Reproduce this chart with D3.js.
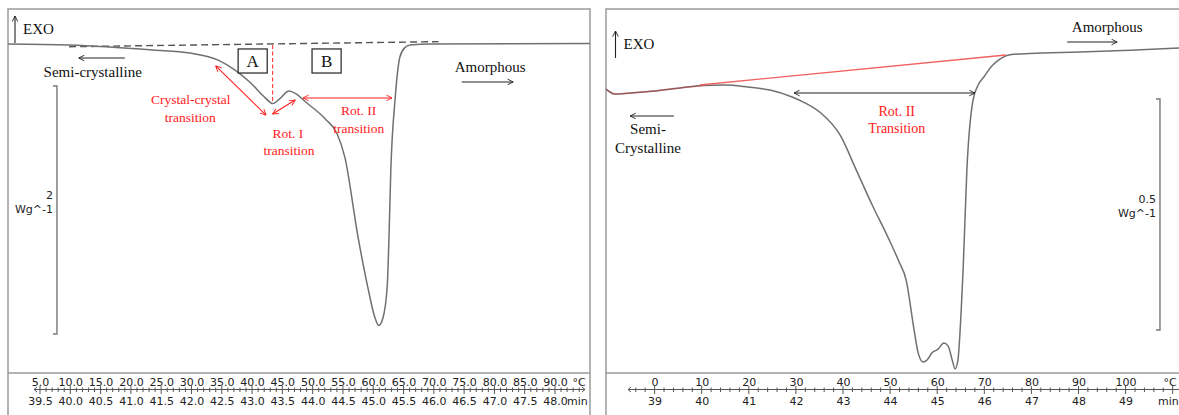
<!DOCTYPE html>
<html>
<head>
<meta charset="utf-8">
<script src="https://cdn.jsdelivr.net/npm/d3@7"></script>
<style>
  body { margin: 0; background: #fff; }
  svg { display: block; }
</style>
</head>
<body>
<svg id="chart" width="1179" height="415"></svg>
<script>
// ---- data (temperature °C, heat flow W/g rel. to start) ----
const leftTemp = [-0.3, 9.8, 23.6, 29.8, 34.4, 37.2, 39.7, 42.1, 43.4, 44.6, 46.1, 47.2, 48.9,
  52.2, 54.0, 55.3, 57.5, 59.1, 60.3, 60.9, 61.6, 62.3, 62.6, 62.9, 63.6, 64.4, 65.2, 66.1, 69.4, 95.8];
const leftFlow = [0, -0.008, -0.048, -0.073, -0.13, -0.21, -0.31, -0.43, -0.48, -0.44, -0.38, -0.40, -0.47,
  -0.61, -0.72, -0.91, -1.56, -1.96, -2.21, -2.27, -2.21, -1.96, -1.56, -1.02, -0.45, -0.105, -0.03, -0.008, 0, 0.004];

const rightTemp = [-10.3, -9.5, -8.4, -6.3, 0, 5.4, 10.3, 14.9, 19.8, 24.5, 29.2, 31.9, 35.3, 39.4,
  42.8, 46.2, 49.5, 51.9, 53.4, 55.1, 55.9, 57.0, 57.9, 58.9, 60.2, 61.4, 62.3, 63.2, 63.8, 64.4,
  65.1, 65.5, 66.3, 67.6, 68.7, 69.9, 71.6, 73.1, 75.5, 79.7, 90.3, 101, 111.4];
const rightFlow = [0, -0.0065, -0.011, -0.0097, -0.0043, 0.0022, 0.0076, 0.0087, 0.0043, -0.0022, -0.0173,
  -0.030, -0.052, -0.10, -0.175, -0.251, -0.32, -0.374, -0.413, -0.522, -0.569, -0.591, -0.586, -0.571,
  -0.563, -0.55, -0.556, -0.587, -0.606, -0.587, -0.478, -0.392, -0.175, -0.024, 0.0087, 0.026, 0.050,
  0.063, 0.074, 0.077, 0.080, 0.084, 0.089];

// axis tick labels
const leftTicksC = d3.range(5, 90.1, 5);
const leftTicksMin = d3.range(39.5, 48.01, 0.5);
const rightTicksC = d3.range(0, 100.1, 10);
const rightTicksMin = d3.range(39, 49.1, 1);

const svg = d3.select("#chart");
const serif = "'Liberation Serif', 'Times New Roman', serif";
const sans = "'DejaVu Sans', Verdana, sans-serif";
const curveColor = "#707070";
const frameColor = "#9a9a9a";
const axisFont = 11;

const defs = svg.append("defs");
function marker(id, color) {
  defs.append("marker")
    .attr("id", id)
    .attr("viewBox", "0 0 10 10")
    .attr("refX", 9).attr("refY", 5)
    .attr("markerWidth", 7).attr("markerHeight", 7)
    .attr("markerUnits", "userSpaceOnUse")
    .attr("orient", "auto-start-reverse")
    .append("path")
    .attr("d", "M1,1 L9,5 L1,9")
    .attr("fill", "none")
    .attr("stroke", color)
    .attr("stroke-width", 1.3);
}
marker("arrRed", "#ff2020");
marker("arrBlack", "#222");

// ---- scales ----
const xL = d3.scaleLinear().domain([5, 90]).range([40, 555]);
const yL = d3.scaleLinear().domain([0, -2]).range([44, 292]);
const tL = d3.scaleLinear().domain([39.5, 48.0]).range([40, 555]);

const xR = d3.scaleLinear().domain([0, 100]).range([654.6, 1125.6]);
const yR = d3.scaleLinear().domain([0, -0.5]).range([89, 320]);
const tR = d3.scaleLinear().domain([39, 49]).range([654.6, 1125.6]);

// ---- frames ----
function frame(x, w, clipId) {
  svg.append("rect")
    .attr("x", x).attr("y", 9).attr("width", w).attr("height", 420)
    .attr("fill", "none").attr("stroke", frameColor).attr("stroke-width", 1.5);
  svg.append("line")
    .attr("x1", x).attr("x2", x + w).attr("y1", 373).attr("y2", 373)
    .attr("stroke", frameColor).attr("stroke-width", 1.5);
  defs.append("clipPath").attr("id", clipId)
    .append("rect").attr("x", x).attr("y", 9).attr("width", w).attr("height", 364);
}
frame(8, 582, "clipL");
frame(606, 600, "clipR");

function exo(g, x, y) {
  g.append("line")
    .attr("x1", x).attr("x2", x).attr("y1", y + 14).attr("y2", y - 13)
    .attr("stroke", "#222").attr("stroke-width", 1.1)
    .attr("marker-end", "url(#arrBlack)");
  g.append("text")
    .attr("x", x + 8).attr("y", y + 5)
    .attr("font-family", serif).attr("font-size", 15).attr("fill", "#111")
    .text("EXO");
}

function text(g, x, y, s, color, size, anchor) {
  g.append("text")
    .attr("x", x).attr("y", y)
    .attr("dy", "0.35em")
    .attr("text-anchor", anchor || "middle")
    .attr("font-family", serif).attr("font-size", size).attr("fill", color)
    .text(s);
}

function arrow(g, x1, y1, x2, y2, id, color, both) {
  const l = g.append("line")
    .attr("x1", x1).attr("y1", y1).attr("x2", x2).attr("y2", y2)
    .attr("stroke", color).attr("stroke-width", 1.1)
    .attr("marker-end", `url(#${id})`);
  if (both) l.attr("marker-start", `url(#${id})`);
}

function scaleBar(g, x, yTop, yBot, value) {
  g.append("path")
    .attr("d", `M${x - 4},${yTop} H${x} V${yBot} H${x - 4}`)
    .attr("fill", "none").attr("stroke", "#777").attr("stroke-width", 1.4);
  g.append("text")
    .attr("x", x - 4).attr("y", (yTop + yBot) / 2 - 11)
    .attr("text-anchor", "end")
    .attr("font-family", sans).attr("font-size", axisFont).attr("fill", "#222")
    .text(value);
  g.append("text")
    .attr("x", x - 4).attr("y", (yTop + yBot) / 2 + 3)
    .attr("text-anchor", "end")
    .attr("font-family", sans).attr("font-size", axisFont).attr("fill", "#222")
    .text("Wg^-1");
}

function bottomAxis(g, xC, xT, ticksC, ticksMin, fmtC, fmtT, tickVals, isMajor, lineX0, lineX1, cX, minX) {
  const top = g.append("g").attr("transform", "translate(0,386)")
    .call(d3.axisTop(xC).tickValues(ticksC).tickSize(0).tickPadding(0).tickFormat(fmtC));
  const bot = g.append("g").attr("transform", "translate(0,397)")
    .call(d3.axisBottom(xT).tickValues(ticksMin).tickSize(0).tickPadding(0).tickFormat(fmtT));
  [top, bot].forEach(a => {
    a.select(".domain").remove();
    a.selectAll("text").attr("font-family", sans).attr("font-size", axisFont).attr("fill", "#222");
  });
  g.append("line")
    .attr("x1", lineX0).attr("x2", lineX1).attr("y1", 389.5).attr("y2", 389.5)
    .attr("stroke", "#555").attr("stroke-width", 1);
  g.append("path")
    .attr("d", `M${lineX0 + 3},387 L${lineX0},389.5 L${lineX0 + 3},392`)
    .attr("fill", "none").attr("stroke", "#555");
  g.append("path")
    .attr("d", `M${lineX1 - 3},387 L${lineX1},389.5 L${lineX1 - 3},392`)
    .attr("fill", "none").attr("stroke", "#555");
  g.selectAll(null)
    .data(tickVals)
    .join("line")
    .attr("x1", d => xC(d)).attr("x2", d => xC(d))
    .attr("y1", d => isMajor(d) ? 386 : 387.5)
    .attr("y2", d => isMajor(d) ? 394 : 392)
    .attr("stroke", "#555").attr("stroke-width", 1);
  g.append("text").attr("x", cX).attr("y", 386)
    .attr("text-anchor", "middle")
    .attr("font-family", sans).attr("font-size", axisFont).attr("fill", "#222").text("°C");
  g.append("text").attr("x", minX).attr("y", 397).attr("dy", "0.71em")
    .attr("text-anchor", "start")
    .attr("font-family", sans).attr("font-size", axisFont).attr("fill", "#222").text("min");
}

// ================= LEFT PANEL =================
const gL = svg.append("g");
const leftPts = leftTemp.map((t, i) => [t, leftFlow[i]]);
const lineL = d3.line().x(d => xL(d[0])).y(d => yL(d[1])).curve(d3.curveMonotoneX);

// dashed baseline construction
gL.append("line")
  .attr("x1", xL(9.8)).attr("y1", yL(-0.022))
  .attr("x2", xL(70.8)).attr("y2", yL(0.019))
  .attr("stroke", "#555").attr("stroke-width", 1.4)
  .attr("stroke-dasharray", "7,4");

gL.append("path")
  .datum(leftPts)
  .attr("clip-path", "url(#clipL)")
  .attr("d", lineL)
  .attr("fill", "none").attr("stroke", curveColor).attr("stroke-width", 1.5);

// red dashed split between A and B
gL.append("line")
  .attr("x1", xL(43.4)).attr("x2", xL(43.4))
  .attr("y1", yL(-0.008)).attr("y2", yL(-0.476))
  .attr("stroke", "#ff2020").attr("stroke-width", 1)
  .attr("stroke-dasharray", "4,2.5");

[["A", 37.7, 42.5], ["B", 49.9, 54.7]].forEach(([s, t0, t1]) => {
  gL.append("rect")
    .attr("x", xL(t0)).attr("y", yL(-0.04))
    .attr("width", xL(t1) - xL(t0)).attr("height", yL(-0.234) - yL(-0.04))
    .attr("fill", "#fff").attr("stroke", "#222").attr("stroke-width", 1.2);
  text(gL, (xL(t0) + xL(t1)) / 2, yL(-0.137), s, "#111", 17);
});

arrow(gL, xL(34.0), yL(-0.177), xL(42.3), yL(-0.573), "arrRed", "#ff2020", true);
arrow(gL, xL(43.4), yL(-0.565), xL(47.1), yL(-0.452), "arrRed", "#ff2020", true);
arrow(gL, xL(48.4), yL(-0.435), xL(63.1), yL(-0.435), "arrRed", "#ff2020", true);

text(gL, xL(29.9), yL(-0.444), "Crystal-crystal", "#ff2020", 13.5);
text(gL, xL(29.8), yL(-0.589), "transition", "#ff2020", 13.5);
text(gL, xL(45.9), yL(-0.718), "Rot. I", "#ff2020", 13.5);
text(gL, xL(46.1), yL(-0.855), "transition", "#ff2020", 13.5);
text(gL, xL(57.6), yL(-0.532), "Rot. II", "#ff2020", 13.5);
text(gL, xL(57.6), yL(-0.677), "transition", "#ff2020", 13.5);

arrow(gL, xL(19.0), yL(-0.113), xL(11.4), yL(-0.113), "arrBlack", "#222", false);
text(gL, xL(13.7), yL(-0.226), "Semi-crystalline", "#111", 15);
text(gL, xL(79.3), yL(-0.185), "Amorphous", "#111", 15);
arrow(gL, xL(74.6), yL(-0.306), xL(83.1), yL(-0.306), "arrBlack", "#222", false);

exo(gL, 15, 29);
scaleBar(gL, xL(7.8), yL(-0.339), yL(-2.339), "2");

bottomAxis(gL, xL, tL, leftTicksC, leftTicksMin, d3.format(".1f"), d3.format(".1f"),
  d3.range(5, 94.1, 1), d => d % 5 === 0, 34, 585, 579, tL(48.0) + 12);

// ================= RIGHT PANEL =================
const gR = svg.append("g");
const rightPts = rightTemp.map((t, i) => [t, rightFlow[i]]);
const lineR = d3.line().x(d => xR(d[0])).y(d => yR(d[1])).curve(d3.curveMonotoneX);

gR.append("path")
  .datum(rightPts)
  .attr("clip-path", "url(#clipR)")
  .attr("d", lineR)
  .attr("fill", "none").attr("stroke", curveColor).attr("stroke-width", 1.5);

// red baseline, following the trace at the start then straight across the peak
gR.append("path")
  .datum(rightPts.filter(d => d[0] <= 10.3))
  .attr("clip-path", "url(#clipR)")
  .attr("d", lineR)
  .attr("fill", "none").attr("stroke", "#e03030").attr("stroke-width", 1.3).attr("opacity", 0.4);
gR.append("line")
  .attr("x1", xR(9.6)).attr("y1", yR(0.0087))
  .attr("x2", xR(74.6)).attr("y2", yR(0.0736))
  .attr("stroke", "#f26060").attr("stroke-width", 1.3);

arrow(gR, xR(29.6), yR(-0.0087), xR(68.0), yR(-0.0087), "arrBlack", "#222", true);
text(gR, xR(51.4), yR(-0.0476), "Rot. II", "#ff2020", 14);
text(gR, xR(51.4), yR(-0.0844), "Transition", "#ff2020", 14);

arrow(gR, xR(4.1), yR(-0.0584), xR(-5.2), yR(-0.0584), "arrBlack", "#222", false);
text(gR, xR(-1.4), yR(-0.0866), "Semi-", "#111", 15);
text(gR, xR(-1.4), yR(-0.128), "Crystalline", "#111", 15);
text(gR, xR(96.1), yR(0.134), "Amorphous", "#111", 15);
arrow(gR, xR(87.6), yR(0.1017), xR(98.2), yR(0.1017), "arrBlack", "#222", false);

exo(gR, 615.5, 44);
scaleBar(gR, xR(107.3), yR(-0.0216), yR(-0.5216), "0.5");

bottomAxis(gR, xR, tR, rightTicksC, rightTicksMin, d3.format("d"), d3.format("d"),
  d3.range(-4, 112, 2), d => d % 10 === 0, 628, 1185, 1170, 1158);
</script>
</body>
</html>
